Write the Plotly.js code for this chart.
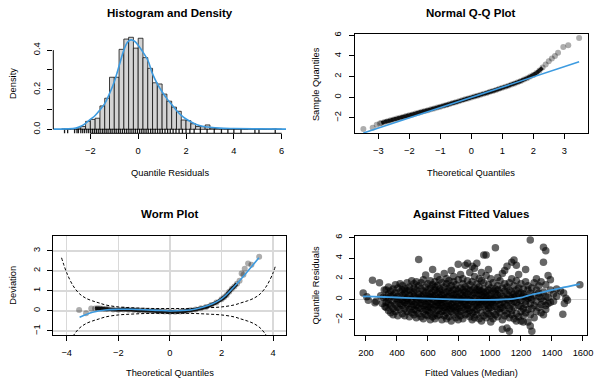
<!DOCTYPE html>
<html><head><meta charset="utf-8">
<script src="https://cdn.plot.ly/plotly-3.0.1.min.js"></script>
<style>html,body{margin:0;padding:0;background:#fff}#plot{width:594px;height:379px}</style>
</head><body><div id="plot"></div>
<script>
// ---------- Panel 1: histogram + density ----------
const binStarts = [-3.2,-3.0,-2.8,-2.6,-2.4,-2.2,-2.0,-1.8,-1.6,-1.4,-1.2,-1.0,-0.8,-0.6,-0.4,-0.2,0.0,0.2,0.4,0.6,0.8,1.0,1.2,1.4,1.6,1.8,2.0,2.2,2.4,2.6,2.8,3.0,3.2,3.4,3.6,3.8,4.0,4.2,4.4,4.6,4.8,5.0,5.2,5.4,5.6,5.8];
const binDensity = [0.002,0,0.004,0.006,0.014,0.04,0.05,0.056,0.118,0.157,0.263,0.263,0.404,0.456,0.465,0.41,0.46,0.362,0.308,0.235,0.229,0.178,0.142,0.112,0.091,0.047,0.044,0.028,0.014,0.013,0.022,0.006,0.004,0.004,0.002,0.002,0.002,0.002,0,0.002,0.002,0.002,0,0,0.002,0];
const densX = [-3.55,-3.0,-2.6,-2.4,-2.2,-2.0,-1.8,-1.6,-1.4,-1.2,-1.0,-0.8,-0.6,-0.45,-0.3,-0.15,0,0.2,0.4,0.6,0.8,1.0,1.2,1.4,1.6,1.8,2.0,2.2,2.4,2.6,2.8,3.0,3.4,4.0,5.0,6.18];
const densY = [0.001,0.002,0.006,0.015,0.03,0.05,0.07,0.098,0.13,0.18,0.24,0.32,0.40,0.44,0.452,0.445,0.425,0.39,0.35,0.28,0.23,0.19,0.155,0.125,0.095,0.07,0.052,0.038,0.026,0.018,0.013,0.01,0.006,0.004,0.002,0.001];

// ---------- Panel 2: normal Q-Q ----------
const qqTheo = [-3.48,-3.18,-3.05,-2.95,-2.9,-2.8,-2.7,-2.6,-2.5,-2.4,-2.3,-2.2,-2.1,-2.0,-1.9,-1.8,-1.7,-1.6,-1.5,-1.4,-1.3,-1.2,-1.1,-1.0,-0.9,-0.8,-0.7,-0.6,-0.5,-0.4,-0.3,-0.2,-0.1,0.0,0.1,0.2,0.3,0.4,0.5,0.6,0.7,0.8,0.9,1.0,1.1,1.2,1.3,1.4,1.5,1.6,1.7,1.8,1.9,2.0,2.1,2.2,2.3,2.4,2.5,2.6,2.7,2.8,2.97,3.13,3.48];
const qqSample = [-3.08,-2.95,-2.66,-2.56,-2.5,-2.4,-2.32,-2.24,-2.15,-2.07,-1.99,-1.91,-1.83,-1.75,-1.67,-1.59,-1.5,-1.42,-1.34,-1.26,-1.17,-1.09,-1.0,-0.92,-0.83,-0.75,-0.66,-0.57,-0.48,-0.39,-0.3,-0.21,-0.12,-0.03,0.06,0.15,0.24,0.33,0.42,0.52,0.61,0.71,0.81,0.91,1.01,1.12,1.23,1.34,1.46,1.58,1.71,1.85,2.0,2.16,2.34,2.6,2.88,3.18,3.48,3.75,4.0,4.3,4.88,5.05,5.73];
const qqLineX = [-3.48, 3.48];
const qqLineY = [-3.46, 3.43];

// ---------- Panel 3: worm plot ----------
const wormTheo = [-3.52,-3.25,-3.05,-2.9,-2.8,-2.7,-2.6,-2.5,-2.4,-2.2,-2.0,-1.8,-1.6,-1.4,-1.2,-1.0,-0.8,-0.6,-0.4,-0.2,0.0,0.2,0.4,0.6,0.8,1.0,1.2,1.4,1.6,1.8,2.0,2.1,2.2,2.3,2.4,2.5,2.6,2.7,2.78,2.85,2.9,3.03,3.16,3.46];
const wormDev = [0.05,-0.12,0.12,0.12,0.13,0.12,0.11,0.1,0.09,0.07,0.06,0.07,0.06,0.05,0.03,0.02,0.01,0.0,-0.02,-0.03,-0.04,-0.04,-0.03,-0.01,0.03,0.07,0.13,0.2,0.3,0.42,0.58,0.68,0.8,0.95,1.1,1.22,1.35,1.5,1.87,1.8,2.1,2.37,2.3,2.7];
const wormFitX = [-3.5,-3.0,-2.5,-2.0,-1.5,-1.0,-0.5,0,0.5,1.0,1.5,2.0,2.5,3.0,3.45];
const wormFitY = [-0.32,-0.07,0.05,0.08,0.08,0.06,0.03,0.0,0.02,0.1,0.28,0.6,1.22,1.95,2.65];
const bandX = [-4.2,-4.0,-3.75,-3.5,-3.25,-3.0,-2.75,-2.5,-2.0,-1.5,-1.0,-0.5,0,0.5,1.0,1.5,2.0,2.5,2.75,3.0,3.25,3.5,3.75,4.0,4.08];
const bandUpper = [2.65,1.9,1.25,0.85,0.63,0.5,0.4,0.3,0.2,0.16,0.13,0.12,0.12,0.12,0.13,0.16,0.2,0.3,0.4,0.5,0.63,0.85,1.25,1.9,2.2];
const bandLower = [-2.65,-1.9,-1.25,-0.85,-0.63,-0.5,-0.4,-0.3,-0.2,-0.16,-0.13,-0.12,-0.12,-0.12,-0.13,-0.16,-0.2,-0.3,-0.4,-0.5,-0.63,-0.85,-1.25,-1.9,-2.2];

// ---------- Panel 4: residuals vs fitted ----------
const fittedCols = [182,205,215,242,258,265,287,295,305,312,318,322,
 330,345,360,375,390,405,420,435,450,465,480,495,510,525,540,555,570,585,600,615,630,645,660,675,690,705,720,735,750,765,780,795,810,825,840,855,870,885,900,915,930,945,960,975,990,1005,1020,1035,1050,1065,1080,1095,1110,1125,1140,1155,1170,1185,1200,1215,1230,1245,1260,1270,1285,1300,1315,1330,1345,1360,1375,1390,1410,1430,1455,1470,1475,1480,1490,1500,1580];
const residCols = [[0.6],[0.25],[-0.1],[1.85],[-0.35],[-0.2],[1.6],[0.35],[-0.4],[0.2],[0.9],[-0.7],
 [-0.8,0.2,0.9,-0.3],
 [-1.1,-0.4,0.5,1.2,0.0],
 [-0.6,0.3,-1.3,0.8],
 [-0.2,1.0,-0.9,0.4,-1.5],
 [0.6,-0.5,1.4,-1.2,0.1],
 [-0.8,0.3,-0.1,1.1,-1.6],
 [0.7,-0.4,-1.0,1.5,0.0],
 [-0.6,0.4,-1.4,0.9,-0.2,1.3],
 [0.2,-0.9,1.0,-1.6,-0.3,0.6],
 [-0.5,0.8,-1.2,1.6,0.1,-0.1],
 [-1.0,0.4,-0.4,1.2,-1.7,0.9],
 [0.0,-0.7,1.8,0.5,-1.3,-0.2],
 [-1.5,0.3,-0.5,1.1,0.7,-1.0,1.5],
 [0.1,-0.3,-1.1,0.9,1.7,-1.8,-0.6],
 [0.5,-0.8,1.3,-0.1,-1.4,0.2,3.85],
 [-0.4,1.0,-1.7,0.3,-0.9,1.6,0.0],
 [0.8,-0.2,-1.2,1.9,-0.6,0.4,-1.9],
 [-1.0,0.1,1.2,-0.5,0.6,-1.5,2.35],
 [0.3,-0.7,1.5,-0.2,-1.6,0.9,-1.1,0.0],
 [-0.4,1.1,-1.3,0.5,1.8,-0.8,0.2,-2.0],
 [0.0,-1.0,0.7,-0.5,1.4,-1.7,2.9,0.3],
 [-0.2,0.9,-1.4,0.4,-0.7,1.7,-1.9,1.2],
 [0.6,-0.3,-1.1,1.3,-0.6,0.1,2.2,-1.6],
 [-0.9,0.2,1.0,-0.1,-1.5,0.7,1.9,-0.5],
 [0.4,-0.6,1.6,-1.2,0.0,-2.0,0.9,-0.3],
 [-0.1,1.2,-0.8,0.5,-1.6,2.5,0.1,-1.1],
 [0.7,-0.4,-1.3,1.5,-0.7,0.2,2.0,-1.9],
 [-0.6,0.3,1.1,-1.0,0.8,-0.2,-1.7,1.8],
 [0.1,-1.2,0.6,2.8,-0.5,1.3,-0.9,-2.1],
 [-0.3,0.9,-1.5,0.4,1.7,-0.8,0.0,2.2],
 [0.5,-0.7,1.0,-1.8,-0.2,1.4,0.2,-1.1],
 [-0.4,0.2,-1.3,3.4,0.8,-0.9,1.9,-2.0],
 [0.0,1.1,-0.6,-1.6,0.6,2.4,-0.1,-1.2],
 [-0.8,0.4,1.5,-0.3,-1.9,0.9,0.1,2.0],
 [0.3,-1.0,0.7,-0.5,1.2,-1.5,3.3,-0.2],
 [-0.6,0.5,-1.4,1.8,0.0,-0.9,1.0,3.5],
 [0.2,-0.4,1.4,-1.7,0.8,-1.1,2.6,-0.1],
 [-0.2,0.9,-0.8,3.2,0.4,-2.0,1.7,-1.3],
 [0.6,-1.2,0.1,1.1,-0.5,2.2,-1.8,3.0],
 [-0.3,0.4,-1.0,1.5,3.5,-0.6,0.9,-1.5],
 [0.0,-0.8,1.2,-1.9,0.5,2.0,-0.3,0.9],
 [0.4,-0.5,-1.3,1.8,-0.1,0.8,2.6,-2.1],
 [-0.7,0.2,1.0,4.3,-1.6,0.6,-0.2,1.6],
 [0.3,-1.1,0.7,-0.4,4.3,2.3,-1.8,0.0],
 [-0.2,0.9,-0.9,1.4,-1.4,0.4,2.9,-0.6],
 [0.5,-0.3,-1.6,1.1,0.1,-2.2,2.0,-0.8],
 [-0.5,0.8,0.0,-1.2,1.6,-0.1,-1.9],
 [0.2,-0.7,5.0,1.0,-1.5,0.6,-0.3],
 [-0.1,1.3,-1.0,0.4,-1.7,2.1,0.9],
 [0.6,-0.5,-1.3,1.8,0.0,-0.9],
 [-0.3,0.3,-2.0,1.1,-0.8,-2.9,2.5],
 [0.1,-1.1,0.8,-0.4,1.5,-1.6,2.8],
 [-0.6,0.5,-1.4,1.2,-2.8,0.0,3.2],
 [0.3,-0.2,-1.8,0.9,1.6,-3.1,-0.9],
 [-0.4,0.7,-1.1,2.0,0.1,3.6,-1.5],
 [0.2,-0.8,1.3,-1.9,0.5,3.8,-0.2],
 [-0.3,0.9,-1.4,0.3,1.8,3.3,-2.1],
 [0.5,-0.6,-1.7,1.1,0.0,2.4],
 [-0.1,0.6,-1.2,-2.1,1.5,-0.7],
 [0.3,-0.9,1.0,-1.6,-2.2,0.5],
 [-0.5,0.2,1.7,-1.3,2.9,-0.2],
 [0.1,-1.0,0.9,-2.2,1.3],
 [-0.4,0.6,-2.6,-1.5,5.75,0.2],
 [-3.1,-0.9,1.1,0.0],
 [0.4,-0.6,-1.8,1.6],
 [-0.2,0.9,2.0,-1.2],
 [0.3,-0.8,1.3,0.6],
 [-0.5,1.7,-1.3,0.1],
 [0.7,-0.2,5.05,-1.5,3.6],
 [1.4,-0.6,4.7,0.3,-1.0],
 [2.3,0.2,-0.4],
 [1.9,0.9,-0.3],
 [0.5,-0.2],
 [1.0,0.3],
 [0.8],[-1.45],[0.6],[-0.4],[0.1],[-0.1],[1.4]];
const smoothX = [180,250,350,450,550,650,750,850,950,1050,1150,1200,1250,1350,1450,1580];
const smoothY = [0.27,0.25,0.2,0.14,0.08,0.03,-0.02,-0.05,-0.06,-0.05,0.04,0.15,0.38,0.72,1.06,1.46];

// ---------- layout helpers ----------
const W = 594, H = 379;
const xd = (a,b) => [a/W, b/W];
const yd = (top,bottom) => [1-bottom/H, 1-top/H];
const FONT = 'Liberation Sans, Arial, Helvetica, sans-serif';
const BLUE = '#3d9be0';
const PT = 'rgba(0,0,0,0.32)';

const fx = [], fy = [];
fittedCols.forEach((f,i) => residCols[i].forEach(r => { fx.push(f); fy.push(r); }));

const rugY = qqSample.map(() => -0.0115);

const traces = [
  {type:'bar', x:binStarts, y:binDensity, width:0.2, offset:0, xaxis:'x', yaxis:'y',
   marker:{color:'#d3d3d3', line:{color:'#111', width:0.8}}, hoverinfo:'skip'},
  {type:'scatter', mode:'markers', x:qqSample, y:rugY, xaxis:'x', yaxis:'y',
   marker:{symbol:'line-ns', size:4, line:{color:'rgba(0,0,0,0.9)', width:1.3}}, hoverinfo:'skip'},
  {type:'scatter', mode:'lines', x:densX, y:densY, xaxis:'x', yaxis:'y',
   line:{color:BLUE, width:1.6, shape:'spline'}},

  {type:'scatter', mode:'lines', x:qqTheo.slice(4,57), y:qqSample.slice(4,57), xaxis:'x2', yaxis:'y2',
   line:{color:'rgba(0,0,0,0.85)', width:3.8, shape:'spline'}},
  {type:'scatter', mode:'markers', x:qqTheo, y:qqSample, xaxis:'x2', yaxis:'y2',
   marker:{size:6, color:PT}},
  {type:'scatter', mode:'lines', x:qqLineX, y:qqLineY, xaxis:'x2', yaxis:'y2',
   line:{color:BLUE, width:1.6}},

  {type:'scatter', mode:'lines', x:bandX, y:bandUpper, xaxis:'x3', yaxis:'y3',
   line:{color:'#000', width:1, dash:'3px,2px', shape:'spline'}},
  {type:'scatter', mode:'lines', x:bandX, y:bandLower, xaxis:'x3', yaxis:'y3',
   line:{color:'#000', width:1, dash:'3px,2px', shape:'spline'}},
  {type:'scatter', mode:'lines', x:wormTheo.slice(3,37), y:wormDev.slice(3,37), xaxis:'x3', yaxis:'y3',
   line:{color:'rgba(0,0,0,0.85)', width:3.6, shape:'spline'}},
  {type:'scatter', mode:'markers', x:wormTheo, y:wormDev, xaxis:'x3', yaxis:'y3',
   marker:{size:6, color:PT}},
  {type:'scatter', mode:'lines', x:wormFitX, y:wormFitY, xaxis:'x3', yaxis:'y3',
   line:{color:BLUE, width:1.6, shape:'spline'}},

  {type:'scatter', mode:'markers', x:fx, y:fy, xaxis:'x4', yaxis:'y4',
   marker:{size:7.5, color:'rgba(0,0,0,0.6)'}},
  {type:'scatter', mode:'lines', x:smoothX, y:smoothY, xaxis:'x4', yaxis:'y4',
   line:{color:BLUE, width:1.8, shape:'spline'}}
];

const baseAx = {ticks:'outside', ticklen:5, tickwidth:1, tickcolor:'#000', showgrid:false, zeroline:false,
  tickfont:{family:FONT, size:9.3, color:'#000'}, ticklabelstandoff:4, fixedrange:true};
const boxAx = Object.assign({}, baseAx, {showline:true, mirror:true, linecolor:'#000', linewidth:1});

const layout = {
  width:W, height:H, margin:{l:0,r:0,t:0,b:0}, showlegend:false,
  paper_bgcolor:'#fff', plot_bgcolor:'#fff', font:{family:FONT, size:9.3, color:'#000'},
  xaxis: Object.assign({}, baseAx, {domain:xd(53.3,286), range:[-3.55,6.18], anchor:'y', tickvals:[-2,0,2,4,6]}),
  yaxis: Object.assign({}, baseAx, {domain:yd(34.3,133.3), range:[-0.0202,0.48], anchor:'x', tickvals:[0,0.1,0.2,0.3,0.4], ticktext:['0.0','','0.2','','0.4'], tickangle:-90}),
  xaxis2: Object.assign({}, boxAx, {domain:xd(355,587.5), range:[-3.75,3.75], anchor:'y2', tickvals:[-3,-2,-1,0,1,2,3]}),
  yaxis2: Object.assign({}, boxAx, {domain:yd(34.3,133.3), range:[-3.5,6.1], anchor:'x2', tickvals:[-2,0,2,4,6], tickangle:-90}),
  xaxis3: Object.assign({}, boxAx, {domain:xd(53.3,286), range:[-4.52,4.5], anchor:'y3', tickvals:[-4,-2,0,2,4], showgrid:true, gridcolor:'#d9d9d9', gridwidth:1.5}),
  yaxis3: Object.assign({}, boxAx, {domain:yd(235.7,335), range:[-1.2,3.75], anchor:'x3', tickvals:[-1,0,1,2,3], tickangle:-90, showgrid:true, gridcolor:'#d9d9d9', gridwidth:1.5}),
  xaxis4: Object.assign({}, boxAx, {domain:xd(355.3,587), range:[131,1626], anchor:'y4', tickvals:[200,400,600,800,1000,1200,1400,1600]}),
  yaxis4: Object.assign({}, boxAx, {domain:yd(235.7,335), range:[-3.47,6.17], anchor:'x4', tickvals:[-2,0,2,4,6], tickangle:-90, zeroline:true, zerolinecolor:'#d0d0d0', zerolinewidth:1.5}),
  shapes: [
    {type:'line', xref:'x', yref:'y domain', x0:-2, x1:6, y0:0, y1:0, line:{color:'#000', width:1}},
    {type:'line', xref:'x domain', yref:'y', x0:0, x1:0, y0:0, y1:0.4, line:{color:'#000', width:1}}
  ],
  annotations: []
};

function ann(text, xp, yp, opts) {
  layout.annotations.push(Object.assign({text:text, xref:'paper', yref:'paper', x:xp/W, y:1-yp/H,
    xanchor:'center', yanchor:'middle', showarrow:false, font:{family:FONT, size:9.3, color:'#000'}}, opts||{}));
}
const TF = {family:FONT, size:11.5, color:'#000'};
ann('<b>Histogram and Density</b>', 169.7, 13.3, {font:TF});
ann('<b>Normal Q-Q Plot</b>', 471.3, 13.3, {font:TF});
ann('<b>Worm Plot</b>', 169.7, 214, {font:TF});
ann('<b>Against Fitted Values</b>', 471.2, 214, {font:TF});
ann('Quantile Residuals', 169.7, 172.7);
ann('Theoretical Quantiles', 471.3, 172.7);
ann('Theoretical Quantiles', 169.7, 373.3);
ann('Fitted Values (Median)', 471.2, 373.3);
ann('Density', 13.3, 83.8, {textangle:-90});
ann('Sample Quantiles', 315.3, 83.8, {textangle:-90});
ann('Deviation', 13.3, 285.4, {textangle:-90});
ann('Quantile Residuals', 316, 285.4, {textangle:-90});

Plotly.newPlot('plot', traces, layout, {staticPlot:true, displayModeBar:false});
</script></body></html>
